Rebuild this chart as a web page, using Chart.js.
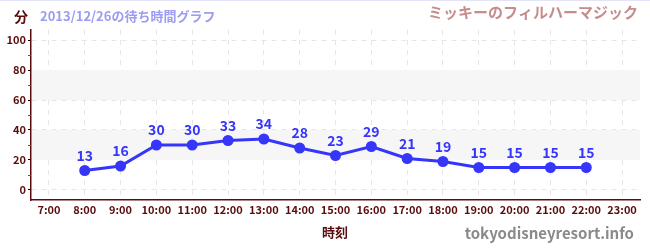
<!DOCTYPE html>
<html>
<head>
<meta charset="utf-8">
<script src="https://cdn.jsdelivr.net/npm/chart.js@4"></script>
<style>
    html, body { margin: 0; padding: 0; background: #fff; }
    #wrap { width: 650px; height: 250px; position: relative; }
</style>
</head>
<body>
<div id="wrap"><canvas id="waitChart" width="650" height="250"></canvas></div>
<script>
const hours = ['7:00', '8:00', '9:00', '10:00', '11:00', '12:00', '13:00', '14:00', '15:00',
    '16:00', '17:00', '18:00', '19:00', '20:00', '21:00', '22:00', '23:00'];
const waitMinutes = [null, 13, 16, 30, 30, 33, 34, 28, 23, 29, 21, 19, 15, 15, 15, 15, null];
const majorTicks = [0, 20, 40, 60, 80, 100];
const minorTicks = [10, 30, 50, 70, 90];
const bands = [[20, 40], [60, 80]];

const MAROON = '#5a0c0c';
const BLUE = '#3636fa';
const JP_FONT = '"Noto Sans CJK JP", "Noto Sans", sans-serif';

// fondos grises, marcas menores y textos de cabecera
const decorPlugin = {
    id: 'decor',
    beforeDatasetsDraw(chart) {
        const {ctx, chartArea, scales} = chart;
        const y = scales.y;
        ctx.save();
        ctx.fillStyle = '#f6f6f6';
        bands.forEach(b => {
            const top = y.getPixelForValue(b[1]);
            const bottom = y.getPixelForValue(b[0]);
            ctx.fillRect(chartArea.left + 1, top, chartArea.right - chartArea.left - 1, bottom - top);
        });
        ctx.restore();
    },
    afterDraw(chart) {
        const {ctx, chartArea, scales} = chart;
        const y = scales.y;
        ctx.save();
        ctx.strokeStyle = '#ee1111';
        ctx.lineWidth = 1;
        minorTicks.forEach(v => {
            const py = Math.round(y.getPixelForValue(v)) + 0.5;
            ctx.beginPath();
            ctx.moveTo(chartArea.left - 3, py);
            ctx.lineTo(chartArea.left, py);
            ctx.stroke();
        });

        ctx.strokeStyle = '#e4e4f8';
        ctx.beginPath();
        ctx.moveTo(0, 0.5);
        ctx.lineTo(650, 0.5);
        ctx.stroke();

        ctx.textBaseline = 'middle';
        ctx.textAlign = 'left';
        ctx.fillStyle = MAROON;
        ctx.font = 'bold 14px ' + JP_FONT;
        ctx.fillText('分', 14, 17);

        ctx.fillStyle = '#9c9cf2';
        ctx.font = 'bold 13px ' + JP_FONT;
        ctx.fillText('2013/12/26の待ち時間グラフ', 40, 16);

        ctx.textAlign = 'right';
        ctx.fillStyle = '#c68d8d';
        ctx.font = 'bold 15px ' + JP_FONT;
        ctx.fillText('ミッキーのフィルハーマジック', 638, 12);

        ctx.fillStyle = '#8a8a8a';
        ctx.font = 'bold 15px ' + JP_FONT;
        ctx.fillText('tokyodisneyresort.info', 634, 233);

        ctx.textAlign = 'center';
        ctx.fillStyle = MAROON;
        ctx.font = 'bold 13px ' + JP_FONT;
        ctx.fillText('時刻', 335, 232);
        ctx.restore();
    }
};

// etiquetas de valor encima de cada punto
const valueLabelPlugin = {
    id: 'valueLabels',
    afterDatasetsDraw(chart) {
        const {ctx} = chart;
        const meta = chart.getDatasetMeta(0);
        ctx.save();
        ctx.fillStyle = BLUE;
        ctx.font = 'bold 14px ' + JP_FONT;
        ctx.textAlign = 'center';
        ctx.textBaseline = 'middle';
        meta.data.forEach((pt, i) => {
            const v = waitMinutes[i];
            if (v === null) return;
            ctx.fillText(String(v), pt.x, pt.y - 15);
        });
        ctx.restore();
    }
};

const ctx = document.getElementById('waitChart').getContext('2d');
const waitChart = new Chart(ctx, {
    type: 'line',
    data: {
        labels: hours,
        datasets: [{
            data: waitMinutes,
            borderColor: BLUE,
            backgroundColor: BLUE,
            borderWidth: 3,
            pointRadius: 5.5,
            pointBackgroundColor: BLUE,
            pointBorderWidth: 0,
            tension: 0,
            spanGaps: false
        }]
    },
    options: {
        responsive: false,
        animation: false,
        devicePixelRatio: 1,
        layout: { padding: { left: 0, top: 30, right: 10, bottom: 0 } },
        plugins: {
            legend: { display: false },
            tooltip: { enabled: false }
        },
        scales: {
            x: {
                type: 'category',
                offset: true,
                afterFit: scale => { scale.height = 50; },
                grid: {
                    offset: false,
                    color: '#e6e6e6',
                    lineWidth: 1,
                    drawTicks: false
                },
                border: { color: MAROON, width: 1.5, dash: [5, 5] },
                ticks: {
                    color: MAROON,
                    padding: 3,
                    maxRotation: 0,
                    autoSkip: false,
                    font: { family: JP_FONT, size: 11, weight: 'bold' }
                }
            },
            y: {
                min: -6.67,
                max: 106.67,
                afterFit: scale => { scale.width = 31; },
                afterBuildTicks: scale => {
                    scale.ticks = majorTicks.map(v => ({ value: v }));
                },
                grid: {
                    color: '#e6e6e6',
                    tickColor: '#000',
                    tickLength: 3,
                    lineWidth: 1,
                    tickBorderDash: []
                },
                border: { color: MAROON, width: 1.5, dash: [5, 5] },
                ticks: {
                    color: MAROON,
                    padding: 2,
                    font: { family: JP_FONT, size: 11, weight: 'bold' }
                }
            }
        }
    },
    plugins: [decorPlugin, valueLabelPlugin]
});
</script>
</body>
</html>
